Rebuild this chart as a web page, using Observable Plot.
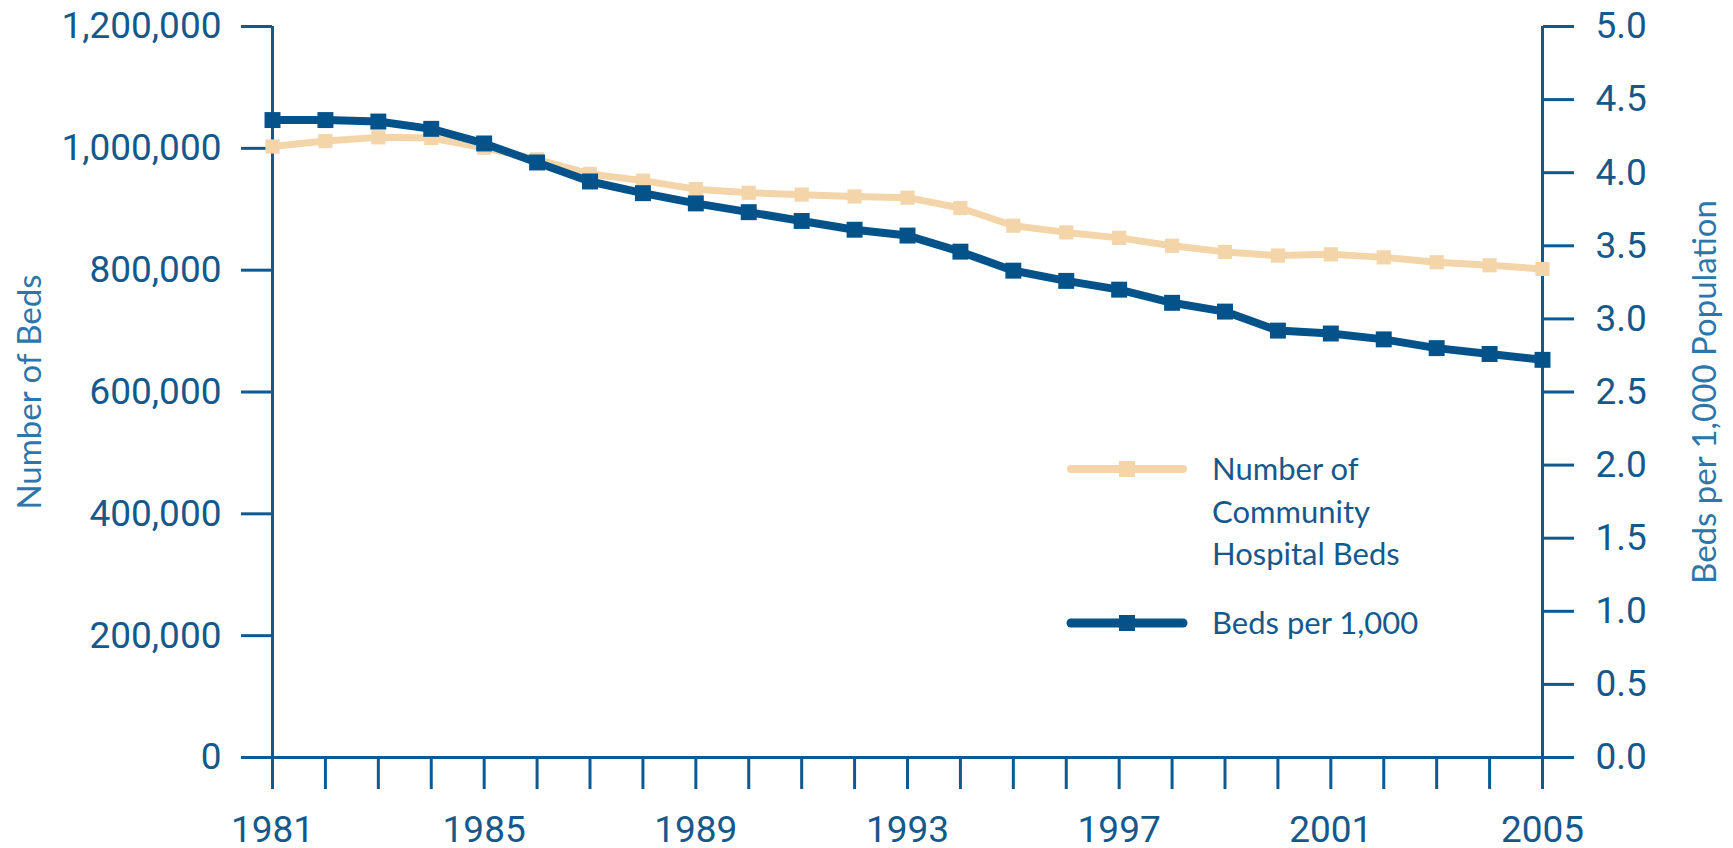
<!DOCTYPE html>
<html>
<head>
<meta charset="utf-8">
<script src="https://cdn.jsdelivr.net/npm/d3@7"></script>
<script src="https://cdn.jsdelivr.net/npm/@observablehq/plot@0.6"></script>
<style>
  html, body { margin: 0; padding: 0; background: #ffffff; }
  #wrap { position: relative; width: 1733px; height: 848px; }
  #wrap svg { display: block; }
</style>
</head>
<body>
<div id="wrap"></div>
<script>
// ---- data ----
const years = [1981, 1982, 1983, 1984, 1985, 1986, 1987, 1988, 1989, 1990, 1991, 1992, 1993,
               1994, 1995, 1996, 1997, 1998, 1999, 2000, 2001, 2002, 2003, 2004, 2005];
const communityBeds = [1003000, 1012000, 1018000, 1017000, 1001000, 982000, 958000, 947000, 933000,
                       927000, 924000, 921000, 919000, 902000, 873000, 862000, 853000, 840000,
                       830000, 824000, 826000, 821000, 813000, 808000, 802000];
const bedsPer1000 = [4.36, 4.36, 4.35, 4.30, 4.20, 4.07, 3.94, 3.86, 3.79, 3.73, 3.67, 3.61, 3.57,
                     3.46, 3.33, 3.26, 3.20, 3.11, 3.05, 2.92, 2.90, 2.86, 2.80, 2.76, 2.72];
const yearLabels = [1981, 1985, 1989, 1993, 1997, 2001, 2005];
const leftTicks = [0, 200000, 400000, 600000, 800000, 1000000, 1200000];
const rightTicks = [0, 0.5, 1, 1.5, 2, 2.5, 3, 3.5, 4, 4.5, 5];
const leftTitle = "Number of Beds";
const rightTitle = "Beds per 1,000 Population";
const legendBeds = ["Number of", "Community", "Hospital Beds"];
const legendRate = "Beds per 1,000";

// ---- styling ----
const axisColor = "#0d5a92";
const tickText = "#15598c";
const titleColor = "#2d76aa";
const darkBlue = "#03528a";
const tan = "#f3d5a9";
const RIGHT_MAX = 5, LEFT_MAX = 1200000;
const K = LEFT_MAX / RIGHT_MAX; // right-axis units -> left-axis units

const table = years.map((year, i) => ({year, beds: communityBeds[i], rate: bedsPer1000[i]}));

const chart = Plot.plot({
  width: 1733,
  height: 848,
  marginLeft: 272,
  marginRight: 191,
  marginTop: 26,
  marginBottom: 91,
  x: {domain: [years[0], years[years.length - 1]]},
  y: {domain: [0, LEFT_MAX]},
  style: {fontFamily: "Roboto, 'Liberation Sans', sans-serif", fontSize: "37px", color: tickText, background: "#ffffff", overflow: "visible"},
  marks: [
    Plot.ruleX([years[0], years[years.length - 1]], {stroke: axisColor, strokeWidth: 3}),
    Plot.ruleY([0], {stroke: axisColor, strokeWidth: 3}),
    Plot.axisX({
      ticks: years, tickSize: 32, tickPadding: 26, stroke: axisColor, strokeWidth: 3, strokeOpacity: 1,
      tickFormat: d => yearLabels.includes(d) ? String(d) : "", label: null, fill: tickText
    }),
    Plot.axisY({
      anchor: "left", ticks: leftTicks, tickSize: 31, tickPadding: 20, stroke: axisColor, strokeWidth: 3, strokeOpacity: 1,
      tickFormat: d3.format(","), label: null, fill: tickText
    }),
    Plot.axisY({
      anchor: "right", ticks: rightTicks.map(v => v * K), tickSize: 31, tickPadding: 22, stroke: axisColor, strokeWidth: 3, strokeOpacity: 1,
      tickFormat: d => (d / K).toFixed(1), label: null, fill: tickText
    }),
    Plot.text([leftTitle], {frameAnchor: "left", textAnchor: "middle", lineAnchor: "middle", dx: -242, rotate: -90, fontSize: 33, fill: titleColor, fontFamily: "Lato, 'Open Sans', sans-serif"}),
    Plot.text([rightTitle], {frameAnchor: "right", textAnchor: "middle", lineAnchor: "middle", dx: 163, rotate: -90, fontSize: 33, fill: titleColor, fontFamily: "Lato, 'Open Sans', sans-serif"}),
    Plot.line(table, {x: "year", y: "beds", stroke: tan, strokeWidth: 7}),
    Plot.dot(table, {x: "year", y: "beds", symbol: "square", r: 8, fill: tan, stroke: "none"}),
    Plot.line(table, {x: "year", y: d => d.rate * K, stroke: darkBlue, strokeWidth: 8}),
    Plot.dot(table, {x: "year", y: d => d.rate * K, symbol: "square", r: 9, fill: darkBlue, stroke: "none"})
  ]
});

document.getElementById("wrap").appendChild(chart);

// ---- legend (overlay inside the svg) ----
const svg = d3.select(chart);
const lg = svg.append("g").attr("font-family", "Lato, 'Open Sans', sans-serif").attr("font-size", 31)
  .attr("fill", tickText).attr("text-anchor", "start");
const items = [
  {color: tan, width: 8, y: 469, lines: legendBeds},
  {color: darkBlue, width: 9, y: 623, lines: [legendRate]}
];
items.forEach(it => {
  lg.append("line").attr("x1", 1071).attr("x2", 1183).attr("y1", it.y).attr("y2", it.y)
    .attr("stroke", it.color).attr("stroke-width", it.width).attr("stroke-linecap", "round");
  lg.append("rect").attr("x", 1119).attr("y", it.y - 8).attr("width", 16).attr("height", 16).attr("fill", it.color);
  it.lines.forEach((t, i) => {
    lg.append("text").attr("x", 1212).attr("y", it.y + i * 42.5).attr("dy", "0.36em").attr("text-anchor", "start").text(t);
  });
});
</script>
</body>
</html>
